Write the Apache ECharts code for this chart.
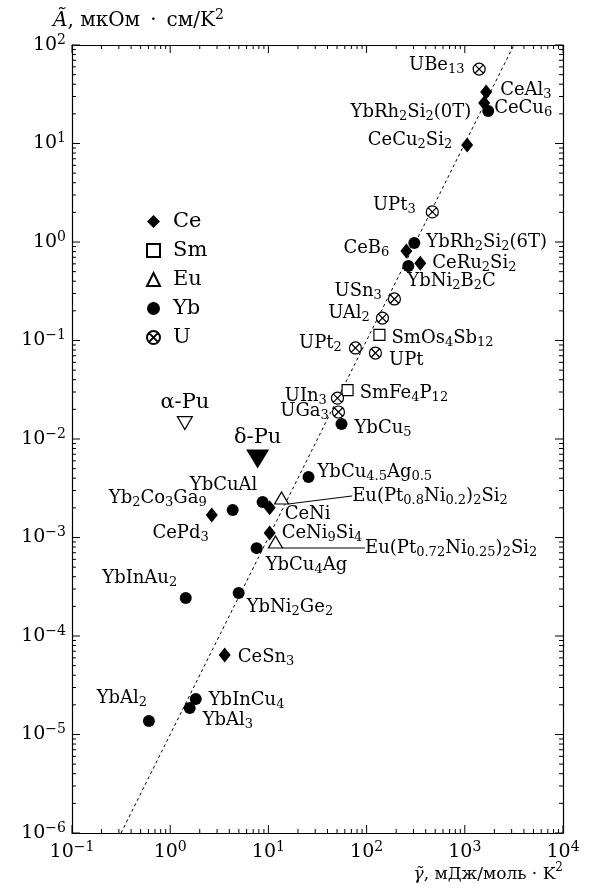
<!DOCTYPE html>
<html>
<head>
<meta charset="utf-8">
<script src="https://cdn.jsdelivr.net/npm/echarts@6/dist/echarts.min.js"></script>
<style>
  html, body { margin: 0; padding: 0; background: #fff; }
  #main { width: 589px; height: 892px; }
</style>
</head>
<body>
<div id="main"></div>
<script>
  // gamma (mJ/mol K^2) and A (uOhm cm/K^2)
  var ceNames = ['CeAl{s|3}', 'CeCu{s|6}', 'CeCu{s|2}Si{s|2}', 'CeB{s|6}', 'CeRu{s|2}Si{s|2}', 'CeNi', 'CeNi{s|9}Si{s|4}', 'CePd{s|3}', 'CeSn{s|3}'];
  var ceGamma = [1650, 1575, 1057, 254, 352, 10.3, 10.3, 2.65, 3.59];
  var ceA = [33.3, 25.8, 9.66, 0.81, 0.61, 0.002, 0.00111, 0.00169, 6.4e-5];

  var smNames = ['SmOs{s|4}Sb{s|12}', 'SmFe{s|4}P{s|12}'];
  var smGamma = [135, 64];
  var smA = [0.114, 0.0314];

  var euNames = ['Eu(Pt{s|0.8}Ni{s|0.2}){s|2}Si{s|2}', 'Eu(Pt{s|0.72}Ni{s|0.25}){s|2}Si{s|2}'];
  var euGamma = [13.6, 11.8];
  var euA = [0.00252, 0.0009];

  var ybNames = ['YbRh{s|2}Si{s|2}(0T)', 'YbRh{s|2}Si{s|2}(6T)', 'YbNi{s|2}B{s|2}C', 'YbCu{s|5}', 'YbCu{s|4.5}Ag{s|0.5}', 'YbCuAl',
    'YbCu{s|4}Ag', 'Yb{s|2}Co{s|3}Ga{s|9}', 'YbInAu{s|2}', 'YbNi{s|2}Ge{s|2}', 'YbInCu{s|4}', 'YbAl{s|3}', 'YbAl{s|2}'];
  var ybGamma = [1730, 306, 266, 55.5, 25.6, 8.73, 7.59, 4.33, 1.44, 4.98, 1.82, 1.58, 0.607];
  var ybA = [21.4, 0.977, 0.57, 0.0142, 0.00411, 0.00229, 0.00078, 0.0019, 0.000243, 0.000273, 2.29e-5, 1.86e-5, 1.37e-5];

  var uNames = ['UBe{s|13}', 'UPt{s|3}', 'USn{s|3}', 'UAl{s|2}', 'UPt{s|2}', 'UPt', 'UIn{s|3}', 'UGa{s|3}'];
  var uGamma = [1400, 467, 192, 145, 77, 123, 50.5, 51.7];
  var uA = [57, 2.02, 0.264, 0.169, 0.084, 0.0746, 0.026, 0.0188];

  var puNames = ['α-Pu', 'δ-Pu'];
  var puGamma = [1.41, 7.77];
  var puA = [0.0145, 0.00627];

  // Kadowaki-Woods line end points
  var kwGamma = [0.316, 3162];
  var kwA = [1e-6, 100];

  var xTicks = [0.1, 1, 10, 100, 1000, 10000];
  var yTicks = [1e-6, 1e-5, 1e-4, 1e-3, 1e-2, 1e-1, 1, 10, 100];

  // label placement: [position, dx, dy]
  var ceLab = [['right', 3, -2], ['right', -1, 5], ['left', -4, -5], ['left', -6, -3], ['right', 1, 0], ['right', 4, 6], ['right', 1, 0], ['left', 8, 18], ['right', 2, 2]];
  var smLab = [['right', 1, 3], ['right', 1, 3]];
  var euLab = [['right', 0, 0], ['right', 0, 0]];
  var euMove = [[58, -2], [77, 6]];
  var ybLab = [['left', -6, 1], ['right', 1, -1], ['right', -12, 15], ['right', 2, 4], ['right', -2, -5], ['top', -39, 5],
    ['right', -2, 17], ['left', -15, -12], ['top', -46, 2], ['right', -3, 14], ['right', 2, 1], ['right', 2, 12], ['top', -27, -1]];
  var uLab = [['left', -3, -4], ['left', -5, -7], ['left', -1, -8], ['left', -1, -5], ['left', -2, -5], ['right', 2, 7], ['left', 1, -2], ['left', 2, -1]];
  var puLab = [['top', 0, 3], ['top', 0, 4]];

  var serif = 'DejaVu Serif';
  var crossCircle = 'path://M2,12A10,10,0,1,1,22,12A10,10,0,1,1,2,12Z M4.93,4.93L19.07,19.07 M19.07,4.93L4.93,19.07';
  var X_MIN = 0.1, X_MAX = 10000, Y_MIN = 1e-6, Y_MAX = 100;

  // all tick positions (decades + 2..9 inside each decade)
  function logTicks(lo, hi) {
    var out = [];
    for (var d = lo; d < hi * 1.0001; d *= 10) {
      out.push(d);
      if (d < hi / 1.0001) {
        for (var k = 2; k <= 9; k++) out.push(d * k);
      }
    }
    return out;
  }

  function isDecade(v) {
    var e = Math.log10(v);
    return Math.abs(e - Math.round(e)) < 1e-6;
  }

  function items(names, g, a, lab) {
    return names.map(function (n, i) {
      return {
        name: n,
        value: [g[i], a[i]],
        label: { position: lab[i][0], offset: [lab[i][1], lab[i][2]] }
      };
    });
  }

  function powLabel(v) {
    var e = Math.round(Math.log10(v));
    return '10{sup|' + (e < 0 ? '\u2212' + (-e) : e) + '}';
  }

  var pointLabel = {
    show: true,
    color: '#000',
    fontFamily: serif,
    fontSize: 18,
    lineHeight: 22,
    formatter: function (p) { return p.name; },
    rich: {
      s: { fontFamily: serif, fontSize: 13, lineHeight: 13, verticalAlign: 'bottom', color: '#000' }
    }
  };

  function tickLine(x1, y1, x2, y2) {
    return { type: 'line', shape: { x1: x1, y1: y1, x2: x2, y2: y2 }, style: { stroke: '#000', lineWidth: 1 } };
  }

  // inward ticks on bottom/top
  function renderXTick(params, api) {
    var v = api.value(0);
    var len = isDecade(v) ? 8 : 4;
    var b = api.coord([v, Y_MIN]);
    var t = api.coord([v, Y_MAX]);
    return { type: 'group', children: [tickLine(b[0], b[1], b[0], b[1] - len), tickLine(t[0], t[1], t[0], t[1] + len)] };
  }

  // inward ticks on left/right
  function renderYTick(params, api) {
    var v = api.value(1);
    var len = isDecade(v) ? 8 : 4;
    var l = api.coord([X_MIN, v]);
    var r = api.coord([X_MAX, v]);
    return { type: 'group', children: [tickLine(l[0], l[1], l[0] + len, l[1]), tickLine(r[0], r[1], r[0] - len, r[1])] };
  }

  function mainAxis(pos, lo, hi, major, showLabels) {
    return {
      type: 'log',
      logBase: 10,
      min: lo,
      max: hi,
      position: pos,
      splitLine: { show: false },
      axisLine: { show: true, lineStyle: { color: '#000', width: 1.2 } },
      axisTick: { show: false },
      axisLabel: {
        show: showLabels,
        customValues: major,
        formatter: powLabel,
        color: '#000',
        fontFamily: serif,
        fontSize: 19,
        lineHeight: 24,
        margin: (pos === 'bottom') ? 7 : 6,
        rich: { sup: { fontFamily: serif, fontSize: 14, lineHeight: 14, verticalAlign: 'top', color: '#000' } }
      }
    };
  }

  function titleRich(size) {
    return {
      i: { fontFamily: serif, fontStyle: 'italic', fontSize: size, lineHeight: 26, fill: '#000' },
      sup: { fontFamily: serif, fontSize: Math.round(size * 0.7), lineHeight: 12, verticalAlign: 'top', fill: '#000' }
    };
  }

  var myChart = echarts.init(document.getElementById('main'));

  myChart.setOption({
    animation: false,
    backgroundColor: '#fff',
    grid: { left: 72, right: 26, top: 45, bottom: 59, containLabel: false },
    xAxis: [mainAxis('bottom', X_MIN, X_MAX, xTicks, true), mainAxis('top', X_MIN, X_MAX, xTicks, false)],
    yAxis: [mainAxis('left', Y_MIN, Y_MAX, yTicks, true), mainAxis('right', Y_MIN, Y_MAX, yTicks, false)],
    legend: {
      data: ['Ce', 'Sm', 'Eu', 'Yb', 'U'],
      orient: 'vertical',
      left: 141,
      top: 206,
      itemWidth: 13,
      itemHeight: 13,
      itemGap: 8,
      textStyle: { fontFamily: serif, fontSize: 21, color: '#000', padding: [0, 0, 0, 8] }
    },
    graphic: [
      {
        type: 'text',
        left: 53,
        top: 8,
        style: {
          text: '{i|Ã}, мкОм\u2002·\u2002см/K{sup|2}',
          fontFamily: serif,
          fontSize: 20,
          lineHeight: 26,
          fill: '#000',
          rich: titleRich(20)
        }
      },
      {
        type: 'text',
        right: 26,
        top: 862,
        style: {
          text: '{i|γ\u0303}, мДж/моль · K{sup|2}',
          fontFamily: serif,
          fontSize: 17,
          lineHeight: 26,
          fill: '#000',
          rich: titleRich(17)
        }
      }
    ],
    series: [
      {
        name: 'xticks',
        type: 'custom',
        renderItem: renderXTick,
        data: logTicks(X_MIN, X_MAX).map(function (v) { return [v, Y_MIN]; }),
        silent: true,
        z: 5
      },
      {
        name: 'yticks',
        type: 'custom',
        renderItem: renderYTick,
        data: logTicks(Y_MIN, Y_MAX).map(function (v) { return [X_MIN, v]; }),
        silent: true,
        z: 5
      },
      {
        name: 'KW',
        type: 'line',
        symbol: 'none',
        data: kwGamma.map(function (g, i) { return [g, kwA[i]]; }),
        lineStyle: { color: '#000', width: 1, type: [3, 3] },
        z: 1
      },
      {
        name: 'Ce',
        type: 'scatter',
        symbol: 'diamond',
        symbolSize: [12, 15],
        itemStyle: { color: '#000', opacity: 1 },
        label: pointLabel,
        data: items(ceNames, ceGamma, ceA, ceLab),
        z: 3
      },
      {
        name: 'Sm',
        type: 'scatter',
        symbol: 'rect',
        symbolSize: 11,
        itemStyle: { color: '#fff', borderColor: '#000', borderWidth: 1.2, opacity: 1 },
        label: pointLabel,
        data: items(smNames, smGamma, smA, smLab),
        z: 3
      },
      {
        name: 'Eu',
        type: 'scatter',
        symbol: 'triangle',
        symbolSize: [14, 12],
        itemStyle: { color: '#fff', borderColor: '#000', borderWidth: 1.2, opacity: 1 },
        label: pointLabel,
        labelLine: { show: true, length2: 0, lineStyle: { color: '#000', width: 1 } },
        labelLayout: function (p) {
          var m = euMove[p.dataIndex];
          return { dx: m[0], dy: m[1] };
        },
        data: items(euNames, euGamma, euA, euLab),
        z: 3
      },
      {
        name: 'Yb',
        type: 'scatter',
        symbol: 'circle',
        symbolSize: 12,
        itemStyle: { color: '#000', opacity: 1 },
        label: pointLabel,
        data: items(ybNames, ybGamma, ybA, ybLab),
        z: 3
      },
      {
        name: 'U',
        type: 'scatter',
        symbol: crossCircle,
        symbolSize: 12,
        itemStyle: { color: '#fff', borderColor: '#000', borderWidth: 1.2, opacity: 1 },
        label: pointLabel,
        data: items(uNames, uGamma, uA, uLab),
        z: 3
      },
      {
        name: 'Pu',
        type: 'scatter',
        symbol: 'triangle',
        symbolRotate: 180,
        label: Object.assign({}, pointLabel, { fontSize: 21 }),
        data: items(puNames, puGamma, puA, puLab).map(function (d, i) {
          if (i === 0) {
            d.symbolSize = [15, 13];
            d.itemStyle = { color: '#fff', borderColor: '#000', borderWidth: 1.2, opacity: 1 };
          } else {
            d.symbolSize = [23, 19];
            d.itemStyle = { color: '#000', opacity: 1 };
          }
          return d;
        }),
        z: 3
      }
    ]
  });
</script>
</body>
</html>
